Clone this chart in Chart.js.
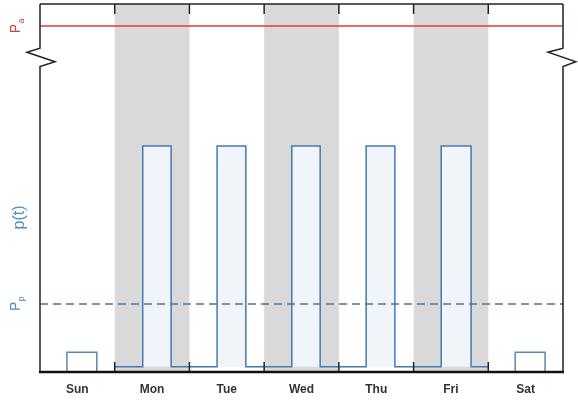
<!DOCTYPE html>
<html><head><meta charset="utf-8">
<script src="https://cdn.jsdelivr.net/npm/chart.js@4.4.0/dist/chart.umd.min.js"></script>
<style>html,body{margin:0;padding:0;background:#fff;}</style>
</head><body><canvas id="c" width="578" height="400"></canvas>
<script>
const days = ['Sun','Mon','Tue','Wed','Thu','Fri','Sat'];
const shadedDays = [1, 3, 5];
const signalStart = 1, signalEnd = 6;
const pulseStarts = [1.375, 2.37, 3.37, 4.365, 5.37];
const pulseEnds = [1.755, 2.755, 3.75, 4.75, 5.77];
const lowLevel = 1.4;
const highLevel = 61.4;
const weekendStarts = [0.36, 6.36];
const weekendEnds = [0.76, 6.76];
const weekendLevel = 5.4;
const paLevel = 94;
const ppLevel = 18.5;
const ptLabelLevel = 42;
const breakTop = 88, breakBottom = 83;
const yMin = 0, yMax = 100;

const FONT = "'Liberation Sans', Arial, sans-serif";

const signal = [{x: signalStart, y: lowLevel}];
pulseStarts.forEach((s, i) => {
  signal.push({x: s, y: lowLevel}, {x: s, y: highLevel}, {x: pulseEnds[i], y: highLevel}, {x: pulseEnds[i], y: lowLevel});
});
signal.push({x: signalEnd, y: lowLevel});

const weekendSets = weekendStarts.map((s, i) => ({
  data: [{x: s, y: yMin}, {x: s, y: weekendLevel}, {x: weekendEnds[i], y: weekendLevel}, {x: weekendEnds[i], y: yMin}],
  borderColor: '#5a88b3', borderWidth: 1.5, pointRadius: 0, fill: false, tension: 0, order: 1
}));

const bandsPlugin = {
  id: 'bands',
  beforeDatasetsDraw(chart) {
    const {ctx, chartArea: a, scales: {x}} = chart;
    ctx.save();
    ctx.fillStyle = '#d9d9d9';
    shadedDays.forEach(d => {
      const x0 = x.getPixelForValue(d), x1 = x.getPixelForValue(d + 1);
      ctx.fillRect(x0, a.top, x1 - x0, a.bottom - a.top);
    });
    ctx.restore();
  }
};

const framePlugin = {
  id: 'frame',
  afterDraw(chart) {
    const {ctx, chartArea: a, scales: {x, y}} = chart;
    const bt = y.getPixelForValue(breakTop), bb = y.getPixelForValue(breakBottom);
    const h = bb - bt;
    ctx.save();
    ctx.strokeStyle = '#222';
    ctx.lineWidth = 1.5;
    ctx.lineJoin = 'miter';
    ctx.beginPath(); ctx.moveTo(a.left, a.top); ctx.lineTo(a.right, a.top); ctx.stroke();
    ctx.beginPath();
    ctx.moveTo(a.left, a.top);
    ctx.lineTo(a.left, bt);
    ctx.lineTo(a.left - 13, bt + h * 0.22);
    ctx.lineTo(a.left + 15, bt + h * 0.74);
    ctx.lineTo(a.left, bb);
    ctx.lineTo(a.left, a.bottom);
    ctx.stroke();
    ctx.beginPath();
    ctx.moveTo(a.right, a.top);
    ctx.lineTo(a.right, bt);
    ctx.lineTo(a.right - 15, bt + h * 0.22);
    ctx.lineTo(a.right + 13, bt + h * 0.74);
    ctx.lineTo(a.right, bb);
    ctx.lineTo(a.right, a.bottom);
    ctx.stroke();
    for (let d = 1; d < days.length; d++) {
      const px = x.getPixelForValue(d);
      ctx.beginPath(); ctx.moveTo(px, a.top); ctx.lineTo(px, a.top + 10); ctx.stroke();
      ctx.beginPath(); ctx.moveTo(px, a.bottom); ctx.lineTo(px, a.bottom - 10); ctx.stroke();
    }
    ctx.strokeStyle = '#111';
    ctx.lineWidth = 2.5;
    ctx.beginPath(); ctx.moveTo(a.left - 1, a.bottom); ctx.lineTo(a.right + 1, a.bottom); ctx.stroke();

    function sublabel(main, sub, yv, color, size) {
      const py = y.getPixelForValue(yv);
      ctx.save();
      ctx.translate(20, py);
      ctx.rotate(-Math.PI / 2);
      ctx.fillStyle = color;
      ctx.textBaseline = 'alphabetic';
      ctx.font = size + 'px ' + FONT;
      const w1 = ctx.measureText(main).width;
      ctx.font = Math.round(size * 0.62) + 'px ' + FONT;
      const w2 = ctx.measureText(sub).width;
      const start = -(w1 + w2) / 2;
      ctx.font = size + 'px ' + FONT;
      ctx.fillText(main, start, 0);
      ctx.font = Math.round(size * 0.62) + 'px ' + FONT;
      ctx.fillText(sub, start + w1 + 0.5, 4);
      ctx.restore();
    }
    sublabel('P', 'a', paLevel, '#d2404c', 14);
    sublabel('P', 'p', ppLevel, '#4a8cc6', 14);
    const py = y.getPixelForValue(ptLabelLevel);
    ctx.save();
    ctx.translate(24, py);
    ctx.rotate(-Math.PI / 2);
    ctx.fillStyle = '#4a8cc6';
    ctx.font = '16px ' + FONT;
    ctx.textAlign = 'center';
    ctx.textBaseline = 'alphabetic';
    ctx.fillText('p(t)', 0, 0);
    ctx.restore();
    ctx.restore();
  }
};

new Chart(document.getElementById('c'), {
  type: 'line',
  data: {
    datasets: [
      {data: signal, borderColor: '#3f7bb6', borderWidth: 1.5, pointRadius: 0, tension: 0,
       fill: {value: lowLevel}, backgroundColor: '#f1f5fa', order: 5},
      ...weekendSets,
      {data: [{x: 0, y: paLevel}, {x: days.length, y: paLevel}], borderColor: '#e0393b', borderWidth: 1.5, pointRadius: 0, fill: false, order: 0},
      {data: [{x: 0, y: ppLevel}, {x: days.length, y: ppLevel}], borderColor: '#3f77ad', borderWidth: 1.5, borderDash: [8, 5], pointRadius: 0, fill: false, order: 0}
    ]
  },
  options: {
    responsive: false, animation: false,
    layout: {padding: {left: 40, right: 15, top: 4, bottom: 0}},
    plugins: {legend: {display: false}, tooltip: {enabled: false}},
    scales: {
      x: {
        type: 'linear', min: 0, max: days.length,
        grid: {display: false}, border: {display: false},
        afterBuildTicks: s => { s.ticks = days.map((d, i) => ({value: i + 0.5})); },
        afterFit: s => { s.height = 28; },
        ticks: {padding: 2, autoSkip: false, maxRotation: 0, color: '#333',
          font: {family: FONT, size: 12, weight: 'bold'},
          callback: (v, i) => days[i]}
      },
      y: {display: false, min: yMin, max: yMax}
    }
  },
  plugins: [bandsPlugin, framePlugin]
});
</script>
</body></html>
